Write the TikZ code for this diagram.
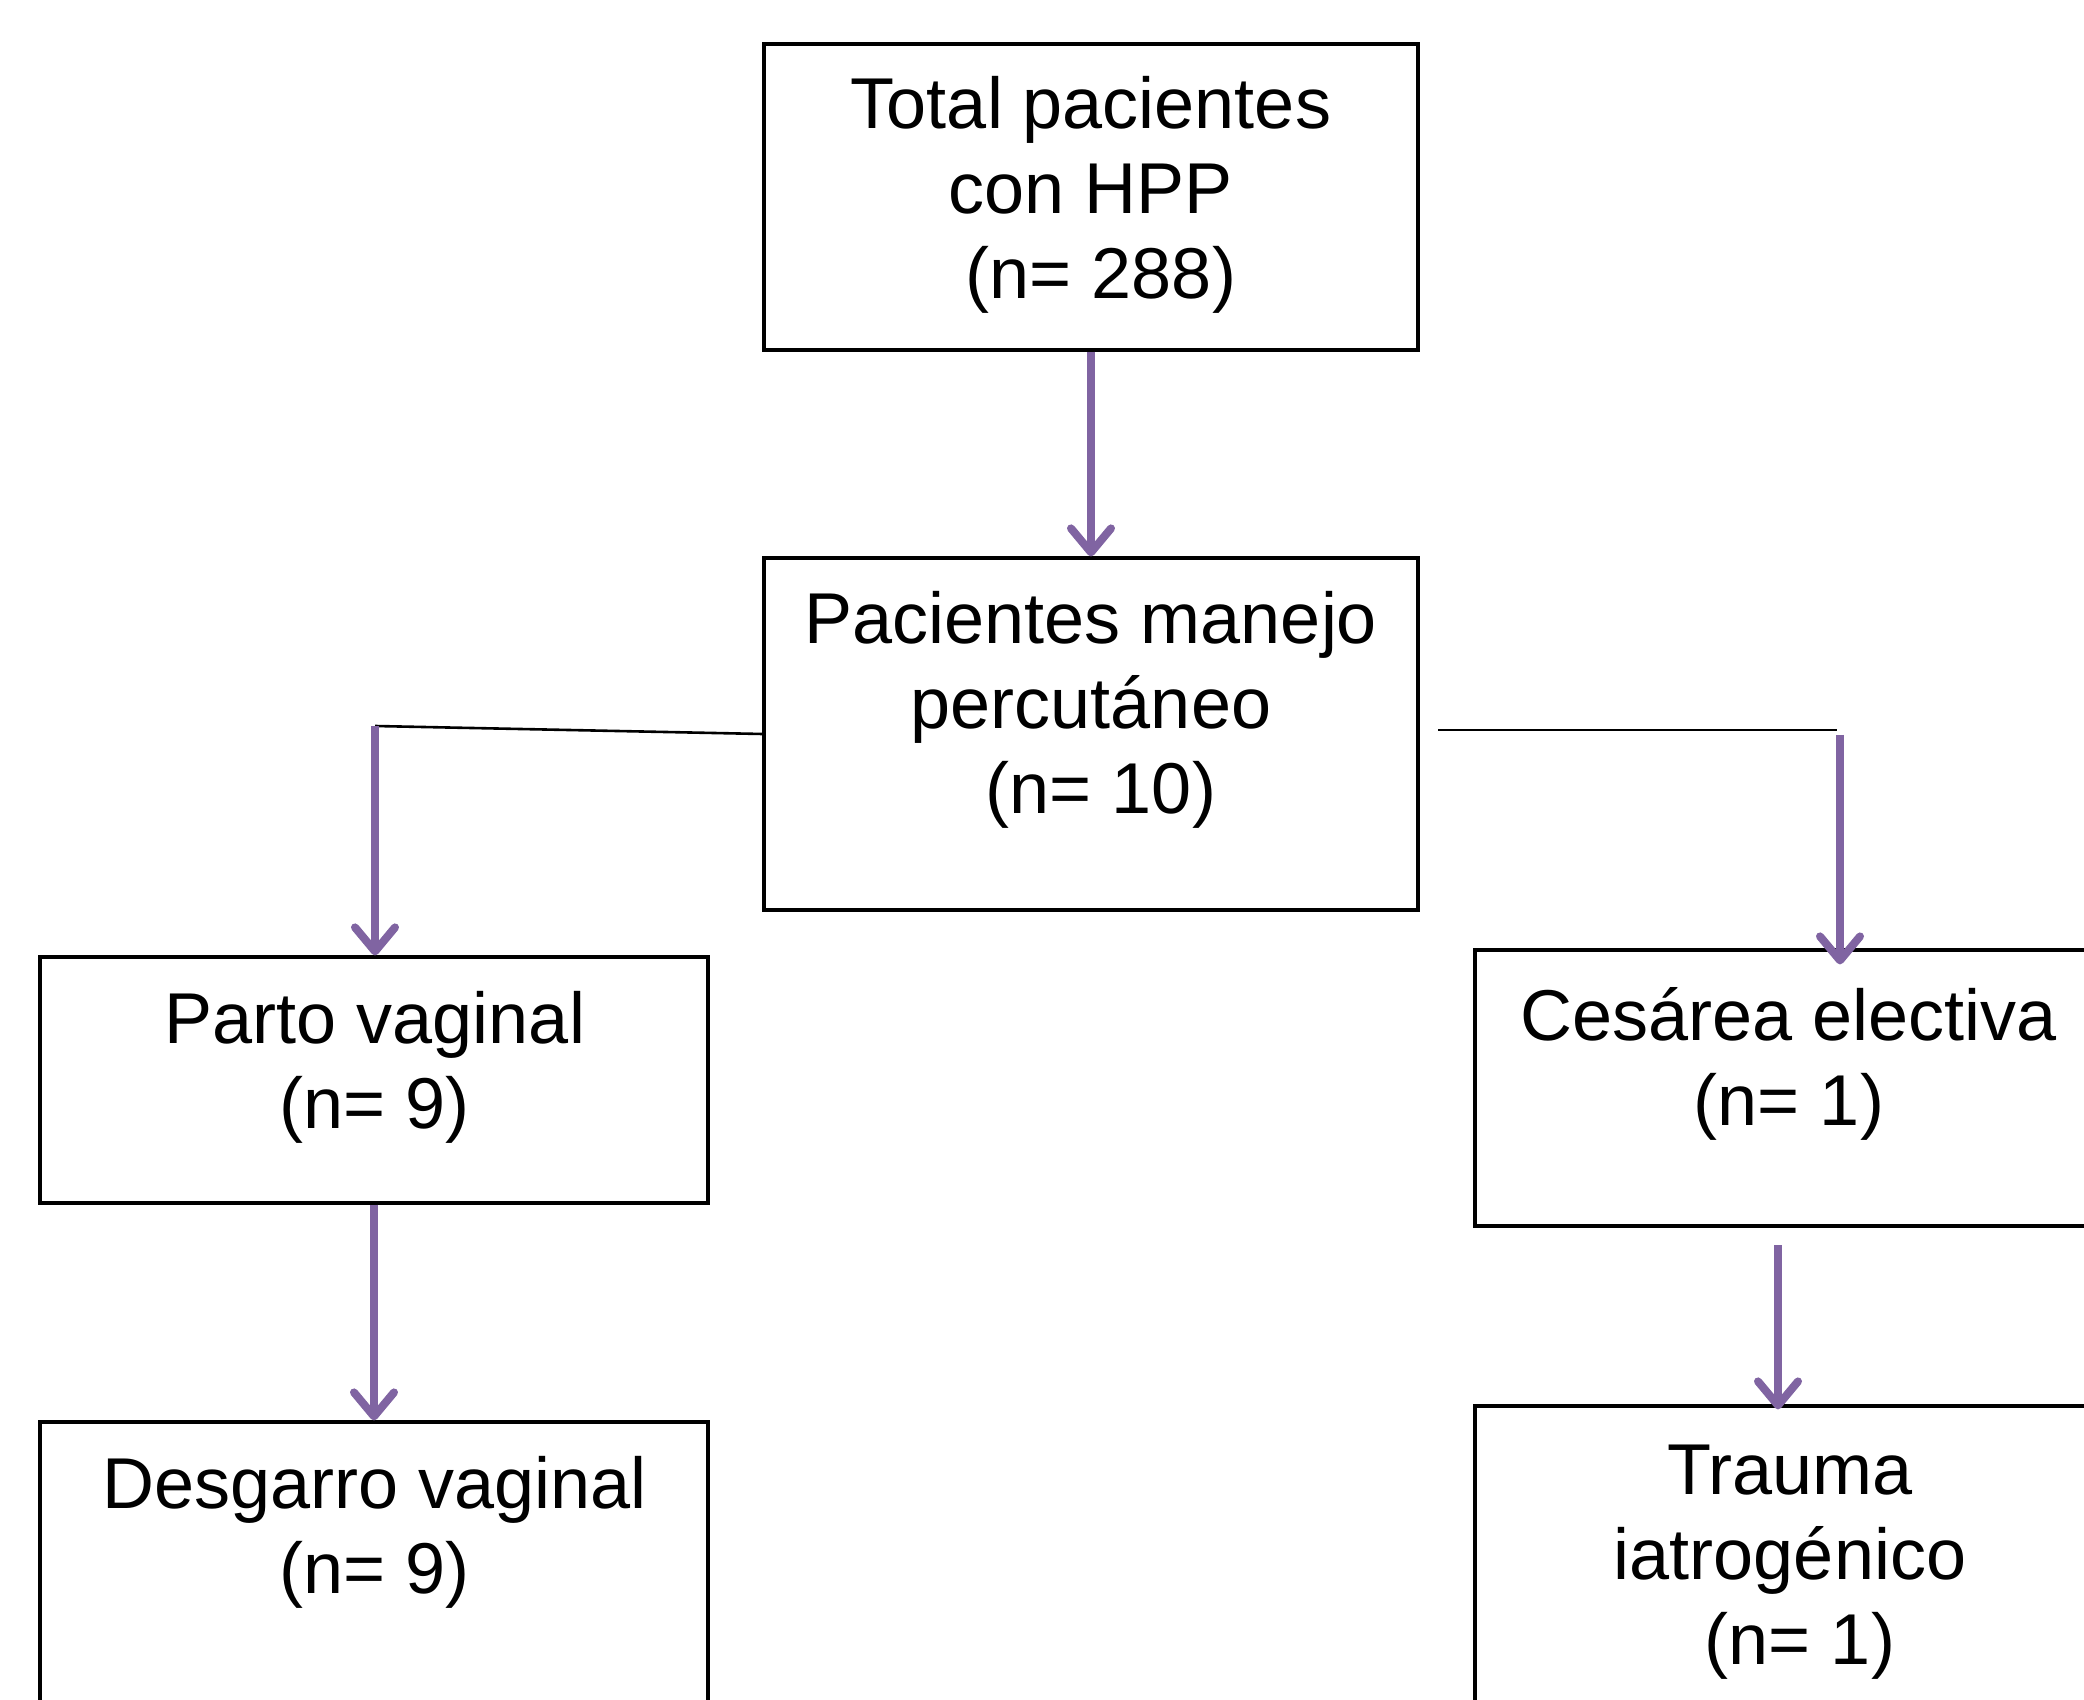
\documentclass[tikz,border=0pt]{standalone}
\usepackage{fontspec}
\setmainfont{Liberation Sans}
\usetikzlibrary{arrows.meta}
\definecolor{arrowpurple}{RGB}{128,100,162}
\begin{document}
\begin{tikzpicture}[x=0.5pt,y=-0.5pt,
  box/.style={draw=black, line width=1.6pt, inner sep=0pt},
  txt/.style={font=\fontsize{36}{42.5}\selectfont, align=center, inner sep=0pt, anchor=base},
  conn/.style={draw=black, line width=1.3pt},
  flow/.style={draw=arrowpurple, line width=4pt, -{Straight Barb[length=12pt,width=20pt,round]}}]
\useasboundingbox (0,0) rectangle (2084,1700);
\fill[white] (0,0) rectangle (2084,1700);
\clip (0,0) rectangle (2084,1700);

% boxes
\node[box, minimum width=327pt, minimum height=153pt] (top) at (1091,197) {};
\node[box, minimum width=327pt, minimum height=176pt] (mid) at (1091,734) {};
\node[box, minimum width=334pt, minimum height=123pt] (parto) at (374,1080) {};
\node[box, minimum width=317.5pt, minimum height=138pt] (ces) at (1792.5,1088) {};
\node[box, minimum width=334pt, minimum height=159pt] (desg) at (374,1581) {};
\node[box, minimum width=317.5pt, minimum height=167pt] (trauma) at (1792.5,1573) {};

% texts (anchor = baseline of last line)
\node[txt] (ttop) at (1091,299) {Total pacientes\\con HPP\\\mbox{}\ (n= 288)};
\node[txt] (tmid) at (1091,813) {Pacientes manejo\\percutáneo\\\mbox{}\ (n= 10)};
\node[txt] (tparto) at (375,1128) {Parto vaginal\\(n= 9)};
\node[txt] (tces) at (1789,1125) {Cesárea electiva\\(n= 1)};
\node[txt] (tdesg) at (375,1593) {Desgarro vaginal\\(n= 9)};
\node[txt] (ttrauma) at (1790,1664) {Trauma\\iatrogénico\\\mbox{}\ (n= 1)};

% free ends of connectors
\coordinate (lc) at (375,726);
\coordinate (rs) at (1438,730);
\coordinate (re) at (1837,730);
\coordinate (ra) at (1840,735);
\coordinate (cs) at (1778,1245);

% connectors
\draw[conn] (mid.west) -- (lc);
\draw[conn] (rs) -- (re);
\draw[flow] (top.south) -- (mid.north);
\draw[flow] (lc) -- (lc |- parto.north);
\draw[flow, shorten >=-8pt] (ra) -- (ra |- ces.north);
\draw[flow] (parto.south) -- (desg.north);
\draw[flow, shorten >=-2.5pt] (cs) -- (cs |- trauma.north);
\end{tikzpicture}
\end{document}
